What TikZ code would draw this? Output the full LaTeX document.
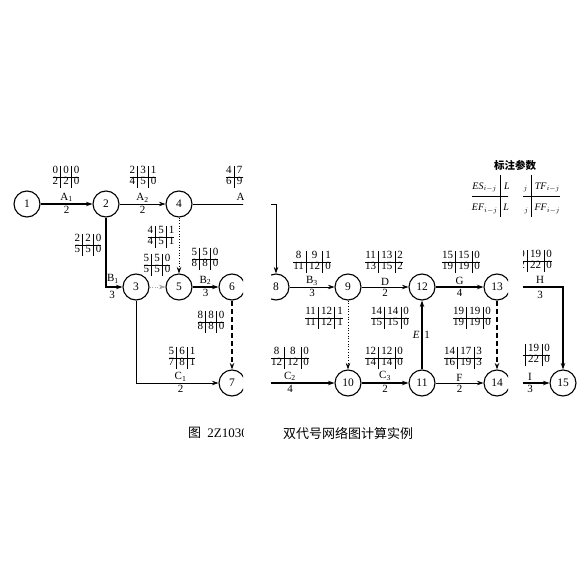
\documentclass[tikz,border=0pt]{standalone}
\usepackage{fontspec}
\setmainfont{Liberation Serif}
\newfontfamily\cjk{Noto Sans CJK SC}
\usetikzlibrary{arrows.meta}
\newcommand{\frc}[6]{{\setlength\tabcolsep{2.6pt}\renewcommand\arraystretch{0.95}\begin{tabular}{@{}c|c|c@{}}#1&#2&#3\\\hline #4&#5&#6\end{tabular}}}
\begin{document}
\begin{tikzpicture}[x=1pt,y=-1pt,
  ev/.style={circle,draw,line width=1.1pt,minimum size=26pt,inner sep=0pt,font=\fontsize{11.5}{11.5}\selectfont},
  tip/.style={-{Stealth[length=6.5pt,width=4.5pt]}},
  crit/.style={line width=1.6pt,tip},
  norm/.style={line width=0.7pt,tip},
  dum/.style={line width=1.6pt,dash pattern=on 5pt off 3pt,tip},
  dotl/.style={line width=0.7pt,dotted,tip},
  faint/.style={line width=0.5pt,dotted,black!35,tip},
  lbl/.style={font=\fontsize{11}{11}\selectfont,inner sep=1.5pt},
  frac/.style={font=\fontsize{11}{11.5}\selectfont,inner sep=0pt},
  captxt/.style={font=\fontsize{13}{13}\selectfont,inner sep=0pt}]
\useasboundingbox (0,0) rectangle (580,569);
\begin{scope}
\clip (0,0) rectangle (243,569) (271,0) rectangle (580,174) (271,174) rectangle (508,569) (523,174) rectangle (580,569);
% events
\node[ev] (n1) at (27,204) {1};
\node[ev] (n2) at (106,204) {2};
\node[ev] (n4) at (179,204) {4};
\node[ev] (n3) at (136,287) {3};
\node[ev] (n5) at (179,287) {5};
\node[ev] (n6) at (232,287) {6};
\node[ev] (n7) at (232,383) {7};
\node[ev] (n8) at (276,287) {8};
\node[ev] (n9) at (348,287) {9};
\node[ev] (n12) at (422,287) {12};
\node[ev] (n13) at (497,287) {13};
\node[ev] (n10) at (348,383) {10};
\node[ev] (n11) at (422,383) {11};
\node[ev] (n14) at (497,383) {14};
\node[ev] (n15) at (563,383) {15};
\coordinate (c48) at (276,204);
\coordinate (c1315) at (563,287);
% activities
\draw[crit] (n1) -- node[lbl,above]{A\textsubscript{1}} node[lbl,below]{2} (n2);
\draw[norm] (n2) -- node[lbl,above]{A\textsubscript{2}} node[lbl,below]{2} (n4);
\draw[norm] (n4) -- (c48) -- (n8);
\node[lbl,anchor=south west] (la3) at (235,204) {A\textsubscript{3}};
\draw[crit] (n2) |- (n3);
\node[lbl] (lb1) at (113,279) {B\textsubscript{1}};
\node[lbl] (lb1d) at (112,295) {3};
\draw[faint] (n3) -- (n5);
\draw[dotl] (n4) -- (n5);
\draw[crit] (n5) -- node[lbl,above]{B\textsubscript{2}} node[lbl,below]{3} (n6);
\draw[dum] (n6) -- (n7);
\draw[norm] (n3) |- node[lbl,above,pos=0.77]{C\textsubscript{1}} node[lbl,below,pos=0.77]{2} (n7);
\draw[crit] (n7) -- node[lbl,above]{C\textsubscript{2}} node[lbl,below]{4} (n10);
\draw[norm] (n8) -- node[lbl,above]{B\textsubscript{3}} node[lbl,below]{3} (n9);
\draw[dotl] (n9) -- (n10);
\draw[norm] (n9) -- node[lbl,above]{D} node[lbl,below]{2} (n12);
\draw[crit] (n10) -- node[lbl,above]{C\textsubscript{3}} node[lbl,below]{2} (n11);
\draw[crit] (n11) -- node[lbl,left,pos=0.5]{\textit{E}} node[lbl,right,pos=0.5]{1} (n12);
\draw[norm] (n11) -- node[lbl,above]{F} node[lbl,below]{2} (n14);
\draw[crit] (n12) -- node[lbl,above]{G} node[lbl,below]{4} (n13);
\draw[dum] (n13) -- (n14);
\draw[crit] (n13) -- (c1315) -- (n15);
\node[lbl] (lh) at (540,280) {H};
\node[lbl] (lhd) at (540,295) {3};
\draw[crit] (n14) -- node[lbl,above]{I} node[lbl,below]{3} (n15);
% time parameters
\node[frac] (f12) at (66,177) {\frc{0}{0}{0}{2}{2}{0}};
\node[frac] (f24) at (143,177) {\frc{2}{3}{1}{4}{5}{0}};
\node[frac,anchor=west] (f48) at (226,177) {\frc{4}{7}{3}{6}{9}{2}};
\node[frac] (f23) at (88,245) {\frc{2}{2}{0}{5}{5}{0}};
\node[frac] (f45) at (161,237) {\frc{4}{5}{1}{4}{5}{1}};
\node[frac] (f35) at (157,265) {\frc{5}{5}{0}{5}{5}{0}};
\node[frac] (f56) at (205,259) {\frc{5}{5}{0}{8}{8}{0}};
\node[frac] (f67) at (211,322) {\frc{8}{8}{0}{8}{8}{0}};
\node[frac] (f37) at (182,358) {\frc{5}{6}{1}{7}{8}{1}};
\node[frac] (f89) at (312,262) {\frc{8}{9}{1}{11}{12}{0}};
\node[frac] (f912) at (384,262) {\frc{11}{13}{2}{13}{15}{2}};
\node[frac] (f1213) at (461,262) {\frc{15}{15}{0}{19}{19}{0}};
\node[frac] (f910) at (324,318) {\frc{11}{12}{1}{11}{12}{1}};
\node[frac] (f1112) at (390,318) {\frc{14}{14}{0}{15}{15}{0}};
\node[frac] (f1314) at (472,318) {\frc{19}{19}{0}{19}{19}{0}};
\node[frac] (f710) at (290,358) {\frc{8}{8}{0}{12}{12}{0}};
\node[frac] (f1011) at (384,358) {\frc{12}{12}{0}{14}{14}{0}};
\node[frac] (f1114) at (463,358) {\frc{14}{17}{3}{16}{19}{3}};
\node[frac,anchor=east] (f1315) at (552,261) {\frc{19}{19}{0}{22}{22}{0}};
\node[frac,anchor=east] (f1415) at (550,355) {\frc{19}{19}{0}{22}{22}{0}};
% legend
\node[font=\cjk\bfseries\fontsize{10.5}{11}\selectfont] (legt) at (515,165) {标注参数};
\node[font=\fontsize{10}{12}\selectfont,inner sep=0pt] (leg) at (516,196) {\setlength\tabcolsep{3pt}\renewcommand\arraystretch{1.75}\begin{tabular}{@{}c|c|c@{}}\textit{ES}$_{i-j}$ & \textit{LS}$_{i-j}$ & \textit{TF}$_{i-j}$\\\hline \textit{EF}$_{i-j}$ & \textit{LF}$_{i-j}$ & \textit{FF}$_{i-j}$\end{tabular}};
% caption
\node[captxt,anchor=west] (cap1) at (188,433) {{\cjk 图}\hspace{3pt} 2Z103031};
\node[captxt,anchor=west,font=\cjk\fontsize{13}{13}\selectfont] (cap2) at (283,433) {双代号网络图计算实例};
\end{scope}
\end{tikzpicture}
\end{document}
